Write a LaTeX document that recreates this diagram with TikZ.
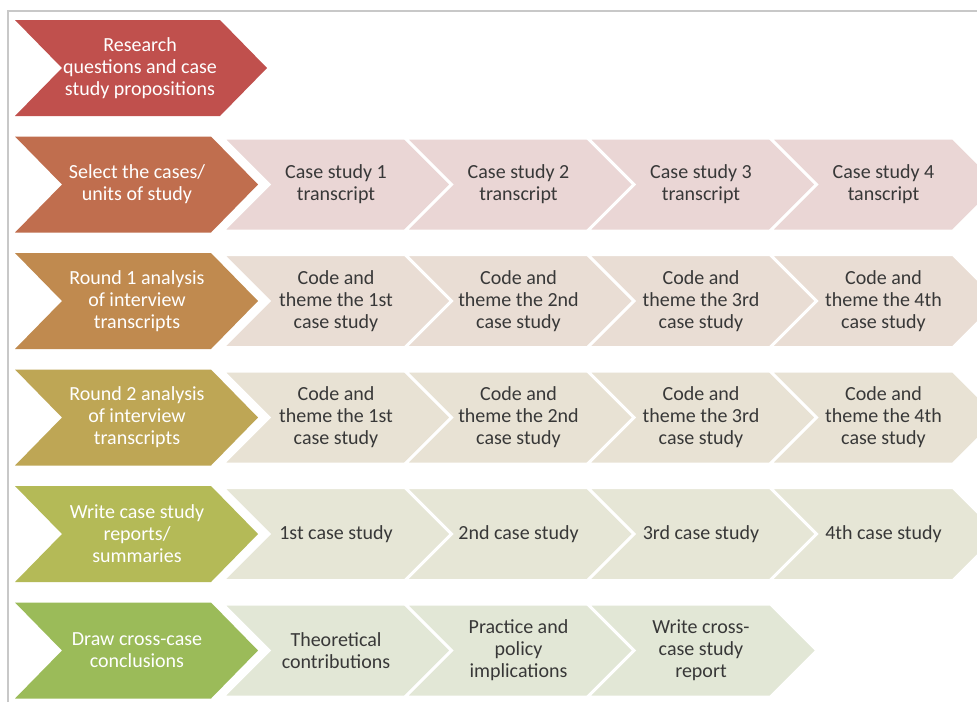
\documentclass[tikz,border=0pt]{standalone}
\usepackage{fontspec}
\setmainfont{Carlito}
\definecolor{mA}{HTML}{C0504D}
\definecolor{mB}{HTML}{C06E4E}
\definecolor{mC}{HTML}{C08A4F}
\definecolor{mD}{HTML}{BEA655}
\definecolor{mE}{HTML}{B4BA57}
\definecolor{mF}{HTML}{9BBB59}
\definecolor{sB}{HTML}{EAD6D5}
\definecolor{sC}{HTML}{E9DDD4}
\definecolor{sD}{HTML}{E8E2D4}
\definecolor{sE}{HTML}{E6E6D6}
\definecolor{sF}{HTML}{E2E7D6}
\definecolor{frame}{HTML}{C8C8C8}
\definecolor{txt}{HTML}{383838}
% #1 left x, #2 centre y, #3 body width, #4 half height, #5 depth, #6 style
\newcommand\chevshape[6]{%
  \path[#6] (#1,#2-#4) -- (#1+#3,#2-#4) -- (#1+#3+#5,#2) -- (#1+#3,#2+#4)
    -- (#1,#2+#4) -- (#1+#5,#2) -- cycle;}
\newcommand\mainchev[3]{\chevshape{15}{#1}{#2}{48}{47}{fill=#3}}
\newcommand\subchev[3]{\chevshape{#1}{#2}{183}{46.5}{46.5}{fill=#3,draw=white,line width=3pt,line join=miter}}
\tikzset{
  maintxt/.style={text=white,align=center,font=\fontsize{20}{22}\selectfont,inner sep=0pt},
  subtxt/.style={text=txt,align=center,font=\fontsize{20}{22}\selectfont,inner sep=0pt}
}
\begin{document}
\begin{tikzpicture}[x=1pt,y=-1pt]
\useasboundingbox (0,0) rectangle (977,702);
\fill[white] (0,0) rectangle (977,702);
\draw[frame,line width=1.5pt] (8,702) -- (8,11) -- (977,11);

% row 1
\chevshape{15}{68}{205}{48}{47}{fill=mA}
\node[maintxt] (r1) at (140,68) {Research\\questions and case\\study propositions};

% row 2
\def\yy{184.5}
\subchev{222.5}{\yy}{sB}\subchev{405}{\yy}{sB}\subchev{587.5}{\yy}{sB}\subchev{770}{\yy}{sB}
\mainchev{\yy}{196}{mB}
\node[maintxt] (r2) at (137,\yy) {Select the cases/\\units of study};
\node[subtxt] (r2a) at (336,\yy) {Case study 1\\transcript};
\node[subtxt] (r2b) at (518.5,\yy) {Case study 2\\transcript};
\node[subtxt] (r2c) at (701,\yy) {Case study 3\\transcript};
\node[subtxt] (r2d) at (883.5,\yy) {Case study 4\\tanscript};

% row 3
\def\yy{301}
\subchev{222.5}{\yy}{sC}\subchev{405}{\yy}{sC}\subchev{587.5}{\yy}{sC}\subchev{770}{\yy}{sC}
\mainchev{\yy}{196}{mC}
\node[maintxt] (r3) at (137,\yy) {Round 1 analysis\\of interview\\transcripts};
\node[subtxt] (r3a) at (336,\yy) {Code and\\theme the 1st\\case study};
\node[subtxt] (r3b) at (518.5,\yy) {Code and\\theme the 2nd\\case study};
\node[subtxt] (r3c) at (701,\yy) {Code and\\theme the 3rd\\case study};
\node[subtxt] (r3d) at (883.5,\yy) {Code and\\theme the 4th\\case study};

% row 4
\def\yy{417.5}
\subchev{222.5}{\yy}{sD}\subchev{405}{\yy}{sD}\subchev{587.5}{\yy}{sD}\subchev{770}{\yy}{sD}
\mainchev{\yy}{196}{mD}
\node[maintxt] (r4) at (137,\yy) {Round 2 analysis\\of interview\\transcripts};
\node[subtxt] (r4a) at (336,\yy) {Code and\\theme the 1st\\case study};
\node[subtxt] (r4b) at (518.5,\yy) {Code and\\theme the 2nd\\case study};
\node[subtxt] (r4c) at (701,\yy) {Code and\\theme the 3rd\\case study};
\node[subtxt] (r4d) at (883.5,\yy) {Code and\\theme the 4th\\case study};

% row 5
\def\yy{534}
\subchev{222.5}{\yy}{sE}\subchev{405}{\yy}{sE}\subchev{587.5}{\yy}{sE}\subchev{770}{\yy}{sE}
\mainchev{\yy}{196}{mE}
\node[maintxt] (r5) at (137,\yy) {Write case study\\reports/\\summaries};
\node[subtxt] (r5a) at (336,\yy) {1st case study};
\node[subtxt] (r5b) at (518.5,\yy) {2nd case study};
\node[subtxt] (r5c) at (701,\yy) {3rd case study};
\node[subtxt] (r5d) at (883.5,\yy) {4th case study};

% row 6
\def\yy{650.5}
\subchev{222.5}{\yy}{sF}\subchev{405}{\yy}{sF}\subchev{587.5}{\yy}{sF}
\mainchev{\yy}{196}{mF}
\node[maintxt] (r6) at (137,\yy) {Draw cross-case\\conclusions};
\node[subtxt] (r6a) at (336,\yy) {Theoretical\\contributions};
\node[subtxt] (r6b) at (518.5,\yy) {Practice and\\policy\\implications};
\node[subtxt] (r6c) at (701,\yy) {Write cross-\\case study\\report};
\end{tikzpicture}
\end{document}
